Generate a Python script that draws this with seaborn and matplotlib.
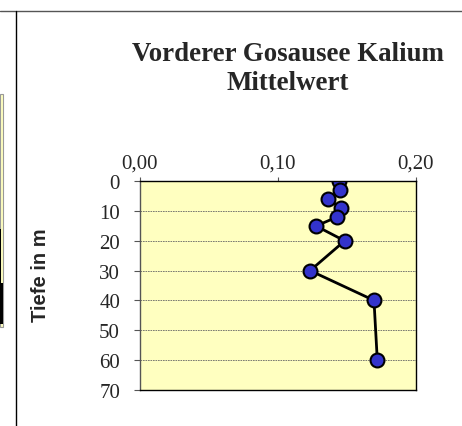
import seaborn as sns
import pandas as pd
import matplotlib.pyplot as plt
from matplotlib.patches import Rectangle
from matplotlib.lines import Line2D

tiefe = [0, 3, 6, 9, 12, 15, 20, 30, 40, 60]
kalium = [0.1446, 0.1451, 0.1366, 0.1458, 0.1429, 0.1277, 0.1484, 0.1234, 0.1696, 0.1720]
x_ticks = [0.0, 0.1, 0.2]
x_labels = ['0,00', '0,10', '0,20']
y_ticks = [0, 10, 20, 30, 40, 50, 60, 70]

df = pd.DataFrame({'Tiefe': tiefe, 'Kalium': kalium})

sns.set_style('white')
W, H = 462, 427
fig = plt.figure(figsize=(W / 100, H / 100), dpi=100)

# frame lines of the surrounding sheet and a slice of the neighbouring chart
fig.add_artist(Line2D([0, 1], [1 - 12 / H, 1 - 12 / H], color='#555555', lw=1))
fig.add_artist(Line2D([15.5 / W, 15.5 / W], [0, 1 - 12 / H], color='black', lw=1))
fig.add_artist(Rectangle((0, 1 - 328 / H), 3 / W, 233 / H, facecolor='#FFFFC0',
                         edgecolor='#999999', lw=0.8))
fig.add_artist(Rectangle((0, 1 - 284 / H), 1 / W, 54 / H, facecolor='black', lw=0))
fig.add_artist(Rectangle((0, 1 - 325 / H), 3 / W, 41 / H, facecolor='black', lw=0))

ax = fig.add_axes([139.5 / W, (H - 390.7) / H, 276.5 / W, 208.4 / H])
ax.set_facecolor('#FFFFC0')

sns.lineplot(data=df, x='Kalium', y='Tiefe', sort=False, estimator=None, ax=ax,
             color='black', lw=2, marker='o', markersize=10,
             markerfacecolor='#3333CC', markeredgecolor='black', markeredgewidth=1.5)

ax.set_xlim(0, 0.2)
ax.set_ylim(70, 0)
ax.xaxis.tick_top()
ax.set_xticks(x_ticks)
ax.set_xticklabels(x_labels, fontfamily='Liberation Serif', fontsize=15)
ax.set_yticks(y_ticks)
ax.set_yticklabels([str(v) for v in y_ticks], fontfamily='Liberation Serif', fontsize=15)
ax.tick_params(axis='y', direction='out', length=4.5, width=0.8, color='#555555',
               left=True, pad=9.5)
ax.tick_params(axis='x', direction='out', length=3, width=0.8, color='#555555',
               top=True, pad=3)
ax.set_xlabel('')
ax.set_ylabel('Tiefe in m', fontfamily='Liberation Sans', fontweight='bold',
              fontsize=14.5)
ax.yaxis.set_label_coords(-0.322, 0.555)
ax.grid(axis='y', color='#666666', linestyle=(0, (2, 1)), lw=0.6)
ax.set_axisbelow(True)
for side in ['top', 'bottom', 'left', 'right']:
    ax.spines[side].set_color('black')
    ax.spines[side].set_linewidth(1)
ax.spines['left'].set_color('#555555')

fig.text(288 / W, 1 - 69 / H, 'Vorderer Gosausee Kalium\nMittelwert', ha='center',
         va='center', fontfamily='Liberation Serif', fontweight='bold', fontsize=19.4,
         linespacing=1.17)

fig.savefig('out.png', dpi=100)
